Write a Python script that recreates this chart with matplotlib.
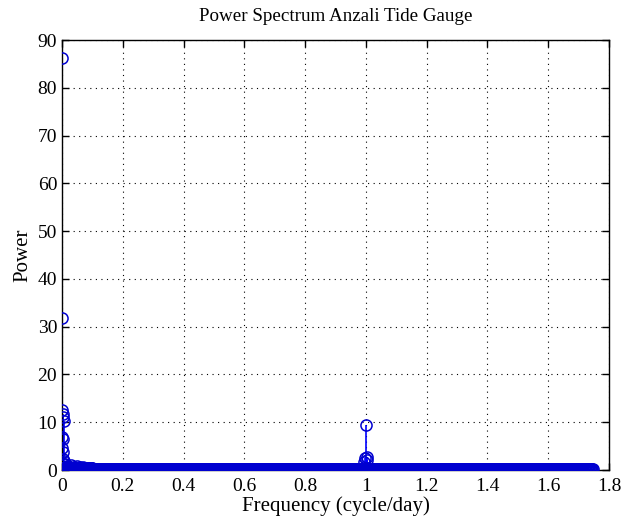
import numpy as np
import matplotlib.pyplot as plt

plt.rcParams['font.family'] = ['Liberation Serif', 'DejaVu Serif']

# long-period peaks close to zero frequency
low_freq = [0.0003, 0.0006, 0.0010, 0.0030, 0.0045, 0.0060, 0.0008,
            0.0025, 0.0012, 0.0040, 0.0020, 0.0050, 0.0070]
low_power = [86.3, 31.8, 12.6, 11.7, 11.0, 10.3, 7.0,
             6.5, 4.6, 3.7, 2.4, 1.8, 1.2]

# small tail between 0.01 and 0.1 cycle/day
tail_freq = [0.010, 0.015, 0.020, 0.030, 0.040, 0.050, 0.060, 0.070, 0.080, 0.090, 0.100]
tail_power = [1.2, 0.9, 0.8, 1.0, 0.7, 0.8, 0.6, 0.6, 0.5, 0.5, 0.4]

# diurnal band around 1 cycle/day
diurnal_freq = [0.9950, 0.9975, 1.0000, 1.0025, 1.0050]
diurnal_power = [1.6, 2.5, 9.4, 2.8, 2.0]

# background level of the spectrum, per frequency band
band_edges = [0.0, 0.1, 0.5, 1.0, 1.75]
band_levels = [0.4, 0.3, 0.25, 0.25]
band_step = 0.0025

floor_freq = []
floor_power = []
for lo, hi, lvl in zip(band_edges[:-1], band_edges[1:], band_levels):
    f = np.arange(lo, hi, band_step)
    floor_freq.extend(f)
    floor_power.extend([lvl] * len(f))

freq = np.concatenate([floor_freq, tail_freq, diurnal_freq, low_freq])
power = np.concatenate([floor_power, tail_power, diurnal_power, low_power])

fig = plt.figure(figsize=(6.22, 5.23), dpi=100)
ax = fig.add_axes([0.0997, 0.1013, 0.8793, 0.8222])

markers, stems, base = ax.stem(freq, power, linefmt='-', markerfmt='o', basefmt=' ')
stems.set_color('#0000ff')
stems.set_linewidth(1.2)
markers.set_markerfacecolor('none')
markers.set_markeredgecolor('#0000d0')
markers.set_markersize(8)
markers.set_markeredgewidth(1.1)
markers.set_zorder(3)

ax.set_xlim(0, 1.8)
ax.set_ylim(0, 90)
ax.set_xticks(np.arange(0, 1.81, 0.2))
ax.set_xticklabels(['0', '0.2', '0.4', '0.6', '0.8', '1', '1.2', '1.4', '1.6', '1.8'])
ax.set_yticks(np.arange(0, 91, 10))
ax.grid(True, color='black', linestyle=(0, (1, 4)), linewidth=0.8)
ax.tick_params(direction='in', top=True, right=True, labelsize=14, length=5, width=1)
ax.tick_params(axis='x', pad=6)
for sp in ax.spines.values():
    sp.set_linewidth(1.0)

ax.set_xlabel('Frequency (cycle/day)', fontsize=15, labelpad=1)
ax.set_ylabel('Power', fontsize=15, labelpad=4)
ax.set_title('Power Spectrum Anzali Tide Gauge', fontsize=13.7, pad=14)

fig.savefig('out.png', dpi=100)
